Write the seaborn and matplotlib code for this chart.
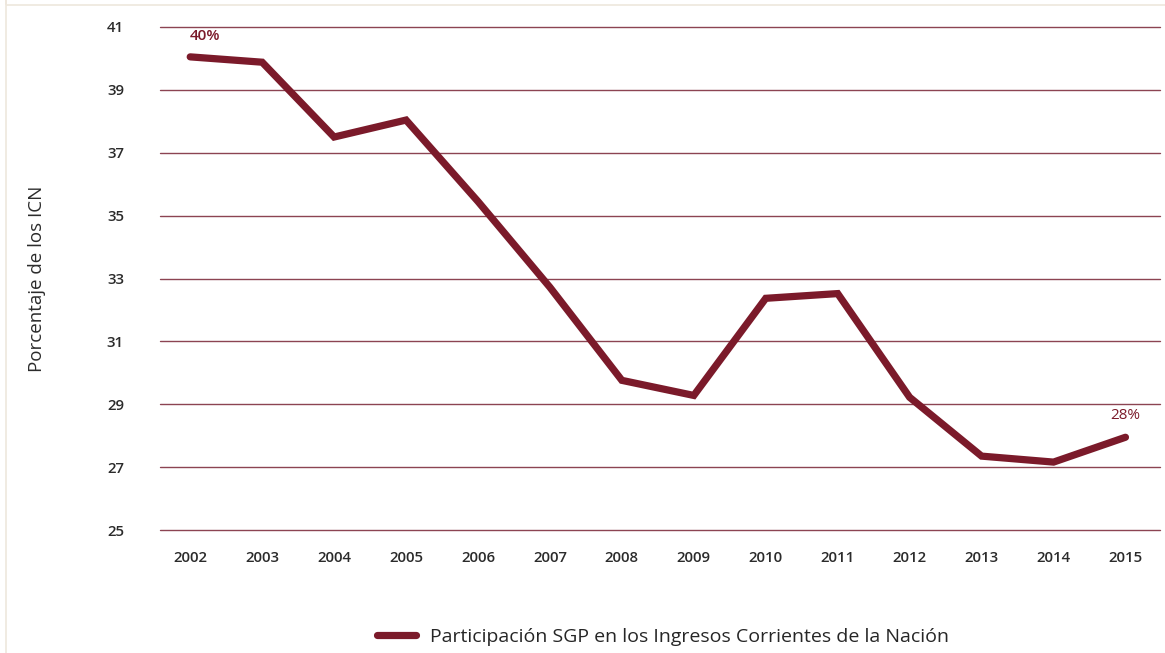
import matplotlib
matplotlib.use("Agg")
import matplotlib.pyplot as plt
import seaborn as sns
import pandas as pd
from matplotlib.patches import Rectangle

years = ["2002", "2003", "2004", "2005", "2006", "2007", "2008",
         "2009", "2010", "2011", "2012", "2013", "2014", "2015"]
share = [40.05, 39.88, 37.5, 38.04, 35.45, 32.72, 29.76,
         29.28, 32.37, 32.52, 29.22, 27.35, 27.16, 27.95]
y_ticks = [25, 27, 29, 31, 33, 35, 37, 39, 41]
series_name = "Participación SGP en los Ingresos Corrientes de la Nación"
first_label = "40%"
last_label = "28%"

df = pd.DataFrame({"year": years, "value": share})

sns.set_theme(style="white")
plt.rcParams["font.family"] = ["Open Sans", "DejaVu Sans"]

line_color = "#7b1a2a"
grid_color = "#8c4452"

fig = plt.figure(figsize=(11.65, 6.53), dpi=100)
ax = fig.add_axes([160 / 1165, 1 - 530 / 653, 1000 / 1165, 503 / 653])

for t in y_ticks:
    ax.axhline(t, color=grid_color, lw=1.0, zorder=1, clip_on=False)

sns.lineplot(data=df, x="year", y="value", ax=ax, color=line_color,
             lw=5.2, sort=False, label=series_name, zorder=3,
             solid_joinstyle="miter", legend=False)

ax.set_ylim(25, 41)
ax.set_xlim(-0.42, 13.48)
ax.set_yticks(y_ticks)
ax.set_yticklabels([str(t) for t in y_ticks])
for s in ax.spines.values():
    s.set_visible(False)
ax.tick_params(axis="both", length=0, labelsize=10.8, colors="#2b2b2b")
ax.tick_params(axis="y", pad=26)
ax.tick_params(axis="x", pad=15)
for lab in ax.get_xticklabels() + ax.get_yticklabels():
    lab.set_fontweight("semibold")
ax.set_xlabel("")
ax.set_ylabel("Porcentaje de los ICN", fontsize=13.5, color="#2b2b2b", labelpad=44)

ax.text(0, 40.5, first_label, color=line_color, fontsize=11, ha="left",
        va="bottom", fontweight="semibold")
ax.text(13, 28.4, last_label, color=line_color, fontsize=11, ha="center",
        va="bottom")

handle = plt.Line2D([], [], color=line_color, lw=5.2, solid_capstyle="round")
fig.legend([handle], [series_name], loc="center", bbox_to_anchor=(0.569, 1 - 637 / 653),
           frameon=False, fontsize=14, handlelength=2.0, handletextpad=0.7)

fig.patches.append(Rectangle((6 / 1165, -0.1), 2, 1.2, transform=fig.transFigure,
                             fill=False, edgecolor="#eee7dd", lw=1.2))
fig.patches.append(Rectangle((6 / 1165, 1 - 5 / 653), 2, 1, transform=fig.transFigure,
                             fill=False, edgecolor="#eee7dd", lw=1.2))

fig.savefig("out.png", dpi=100)
